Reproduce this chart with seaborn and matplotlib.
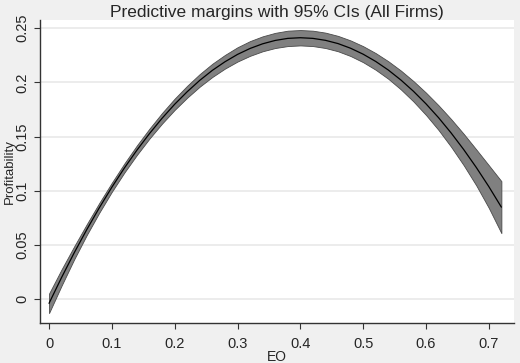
import matplotlib
matplotlib.use("Agg")
import matplotlib.pyplot as plt
import seaborn as sns
import pandas as pd

# EO levels at which margins were evaluated
eo = [0.00, 0.02, 0.04, 0.06, 0.08, 0.10, 0.12, 0.14, 0.16, 0.18,
      0.20, 0.22, 0.24, 0.26, 0.28, 0.30, 0.32, 0.34, 0.36, 0.38,
      0.40, 0.42, 0.44, 0.46, 0.48, 0.50, 0.52, 0.54, 0.56, 0.58,
      0.60, 0.62, 0.64, 0.66, 0.68, 0.70, 0.72]

# predicted profitability
margin = [-0.0040, 0.0199, 0.0426, 0.0640, 0.0842, 0.1032, 0.1210, 0.1375, 0.1528, 0.1669,
          0.1798, 0.1914, 0.2019, 0.2111, 0.2190, 0.2258, 0.2313, 0.2356, 0.2387, 0.2406,
          0.2412, 0.2406, 0.2388, 0.2358, 0.2315, 0.2260, 0.2193, 0.2114, 0.2022, 0.1918,
          0.1802, 0.1674, 0.1533, 0.1380, 0.1215, 0.1038, 0.0848]

# 95% CI bounds
ci_lo = [-0.0130, 0.0124, 0.0366, 0.0590, 0.0797, 0.0990, 0.1168, 0.1331, 0.1482, 0.1620,
         0.1746, 0.1859, 0.1961, 0.2050, 0.2127, 0.2192, 0.2245, 0.2287, 0.2317, 0.2335,
         0.2341, 0.2335, 0.2317, 0.2287, 0.2243, 0.2186, 0.2116, 0.2033, 0.1935, 0.1824,
         0.1699, 0.1560, 0.1405, 0.1235, 0.1049, 0.0841, 0.0608]
ci_hi = [0.0050, 0.0274, 0.0486, 0.0690, 0.0887, 0.1074, 0.1252, 0.1419, 0.1574, 0.1718,
         0.1850, 0.1969, 0.2077, 0.2172, 0.2253, 0.2324, 0.2381, 0.2425, 0.2457, 0.2477,
         0.2483, 0.2477, 0.2459, 0.2429, 0.2387, 0.2334, 0.2270, 0.2195, 0.2109, 0.2012,
         0.1905, 0.1788, 0.1661, 0.1525, 0.1381, 0.1235, 0.1088]

xticks = [0, 0.1, 0.2, 0.3, 0.4, 0.5, 0.6, 0.7]
xtick_labels = ["0", "0.1", "0.2", "0.3", "0.4", "0.5", "0.6", "0.7"]
yticks = [0, 0.05, 0.1, 0.15, 0.2, 0.25]
ytick_labels = ["0", "0.05", "0.1", "0.15", "0.2", "0.25"]

df = pd.DataFrame({"EO": eo, "Profitability": margin, "lo": ci_lo, "hi": ci_hi})

sns.set_style("white")
plt.rcParams["font.family"] = ["Liberation Sans", "DejaVu Sans"]

fig = plt.figure(figsize=(5.2, 3.63), dpi=100, facecolor="#f0f0f0")
ax = fig.add_axes([0.077, 0.110, 0.911, 0.835])
ax.set_facecolor("white")

# grid lines
for t in yticks:
    ax.axhline(t, color="#eaeaea", lw=1.3, zorder=0)

ax.fill_between(df["EO"], df["lo"], df["hi"], facecolor="#808080",
                edgecolor="#4a4a4a", lw=0.6, zorder=2)
sns.lineplot(data=df, x="EO", y="Profitability", color="black", lw=0.9, ax=ax, zorder=3)

ax.set_xlim(-0.0143, 0.7397)
ax.set_ylim(-0.0222, 0.2576)
ax.set_xticks(xticks)
ax.set_xticklabels(xtick_labels, fontsize=10.5)
ax.set_yticks(yticks)
ax.set_yticklabels(ytick_labels, fontsize=10.5, rotation=90, va="center")

for s in ["top", "right"]:
    ax.spines[s].set_visible(False)
for s in ["left", "bottom"]:
    ax.spines[s].set_color("#333333")
    ax.spines[s].set_linewidth(1.0)
ax.tick_params(axis="both", direction="out", length=4, width=0.8, color="#333333",
               bottom=True, left=True)
ax.tick_params(axis="x", pad=6)
ax.tick_params(axis="y", pad=4)

ax.set_xlabel("EO", fontsize=10, labelpad=-1)
ax.set_ylabel("Profitability", fontsize=9.5)
ax.yaxis.set_label_coords(-0.05, 0.5)
ax.set_title("Predictive margins with 95% CIs (All Firms)", fontsize=12.5, pad=2)

fig.savefig("out.png", dpi=100, facecolor=fig.get_facecolor())
